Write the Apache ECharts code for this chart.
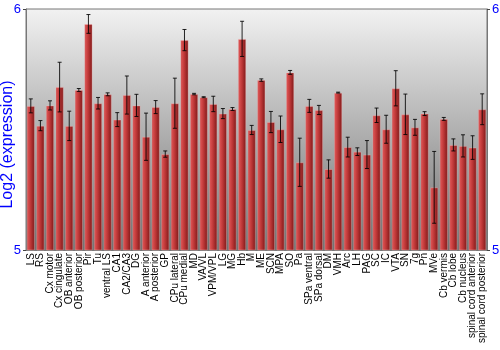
<!DOCTYPE html>
<html><head><meta charset="utf-8">
<script src="https://cdn.jsdelivr.net/npm/echarts@6/dist/echarts.min.js"></script>
<style>html,body{margin:0;padding:0;background:#fff}#c{width:500px;height:350px}</style>
</head><body><div id="c"></div>
<script>
const categories = ["LS","RS","Cx motor","Cx cingulate","OB anterior","OB posterior","Pir","Tu","ventral LS","CA1","CA2/CA3","DG","A anterior","A posterior","GP","CPu lateral","CPu medial","MD","VA/VL","VPM/VPL","LG","MG","Hb","M","ME","SCN","MPA","SO","Pa","SPa ventral","SPa dorsal","DM","VMH","Arc","LH","PAG","SC","IC","VTA","SN","7g","Pn","MVe","Cb vermis","Cb lobe","Cb nucleus","spinal cord anterior","spinal cord posterior"];
const values = [5.598,5.516,5.600,5.676,5.515,5.664,5.938,5.609,5.646,5.541,5.643,5.600,5.470,5.593,5.398,5.609,5.871,5.647,5.634,5.606,5.566,5.585,5.876,5.498,5.705,5.531,5.501,5.737,5.364,5.598,5.581,5.336,5.653,5.427,5.408,5.396,5.559,5.501,5.671,5.563,5.509,5.566,5.260,5.544,5.436,5.432,5.425,5.584];
const errors = [0.029,0.021,0.019,0.103,0.061,0.006,0.039,0.024,0.006,0.029,0.079,0.046,0.098,0.027,0.013,0.104,0.044,0.003,0.002,0.032,0.021,0.006,0.073,0.019,0.005,0.044,0.055,0.008,0.100,0.027,0.019,0.038,0.002,0.041,0.016,0.058,0.030,0.058,0.073,0.084,0.033,0.008,0.149,0.006,0.025,0.046,0.049,0.064];
const yMin = 5, yMax = 6, yInterval = 1;
const yName = "Log2 (expression)";

const chart = echarts.init(document.getElementById('c'), null, {renderer:'canvas'});
const errData = values.map((v,i)=>[i, v - errors[i], v + errors[i]]);
const blue = '#0000ff';
const yAxisBase = {
  type:'value', min:yMin, max:yMax, interval:yInterval,
  axisLine:{show:true, lineStyle:{color:'#777', width:1}},
  axisTick:{show:true, length:3, lineStyle:{color:'#444'}},
  splitLine:{show:false},
  axisLabel:{color:blue, fontSize:13, margin:5, fontFamily:'Liberation Sans, Arial, sans-serif'}
};
chart.setOption({
  animation:false,
  grid:{left:26, right:13, top:9, bottom:100, containLabel:false, outerBoundsMode:'none',
    show:true, borderColor:'#777', borderWidth:1,
    backgroundColor:new echarts.graphic.LinearGradient(0,0,0,1,[{offset:0,color:'#f2f2f2'},{offset:1,color:'#707070'}])},
  xAxis:{type:'category', data:categories,
    axisLine:{show:true, lineStyle:{color:'#777'}}, axisTick:{show:false},
    axisLabel:{interval:0, rotate:90, color:'#000', fontSize:10, margin:3, fontFamily:'Liberation Sans, Arial, sans-serif'}},
  yAxis:[
    Object.assign({}, yAxisBase, {position:'left', name:yName, nameLocation:'middle', nameGap:10, nameMoveOverlap:false,
      nameTextStyle:{color:blue, fontSize:16, padding:[0,30,0,0], fontFamily:'Liberation Sans, Arial, sans-serif'}}),
    Object.assign({}, yAxisBase, {position:'right'})
  ],
  series:[
    {type:'bar', data:values, barCategoryGap:'14%',
      itemStyle:{color:new echarts.graphic.LinearGradient(0,0,1,0,[
        {offset:0,color:'#b03232'},{offset:0.18,color:'#d84e4e'},{offset:0.5,color:'#bb3636'},{offset:1,color:'#7a1717'}]),
        borderColor:'rgba(255,190,190,0.35)', borderWidth:1}},
    {type:'custom', data:errData, z:10,
      renderItem:function(params, api){
        const x = api.value(0);
        const lo = api.coord([x, api.value(1)]);
        const hi = api.coord([x, api.value(2)]);
        const hw = 2;
        const st = {stroke:'rgba(0,0,0,0.85)', lineWidth:1};
        return {type:'group', children:[
          {type:'line', shape:{x1:lo[0], y1:lo[1], x2:hi[0], y2:hi[1]}, style:st},
          {type:'line', shape:{x1:lo[0]-hw, y1:lo[1], x2:lo[0]+hw, y2:lo[1]}, style:st},
          {type:'line', shape:{x1:hi[0]-hw, y1:hi[1], x2:hi[0]+hw, y2:hi[1]}, style:st}
        ]};
      }}
  ]
});
</script></body></html>
